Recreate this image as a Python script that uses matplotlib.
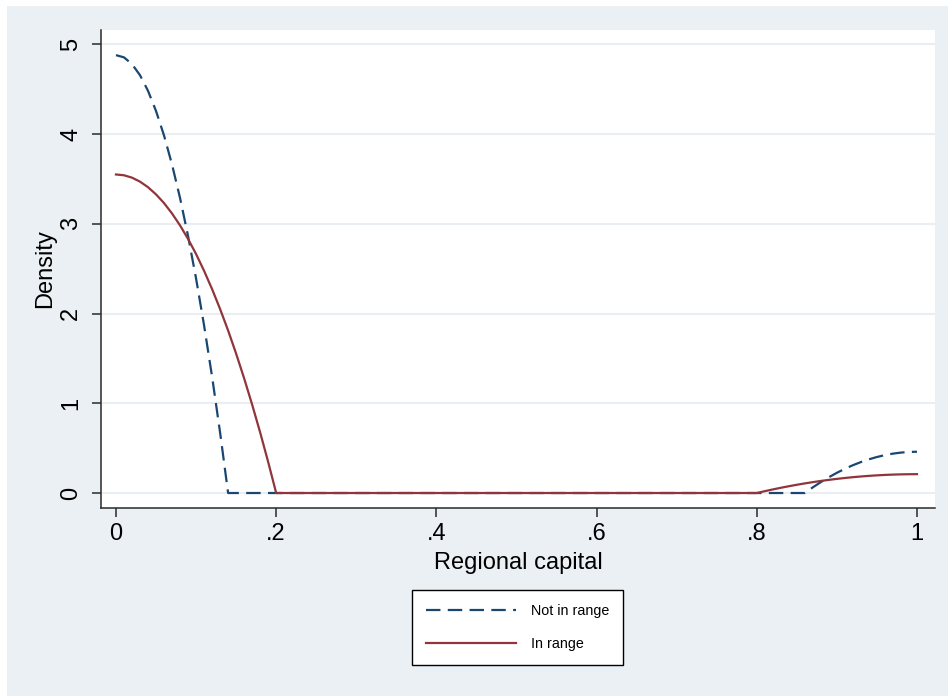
import matplotlib
matplotlib.use("Agg")
import matplotlib.pyplot as plt
from matplotlib.patches import Rectangle

plt.rcParams['font.family'] = ['Liberation Sans', 'DejaVu Sans']

# Values
x_not = [0.0, 0.01, 0.02, 0.03, 0.04, 0.05, 0.06, 0.07, 0.08, 0.09, 0.10, 0.11, 0.12, 0.13, 0.14,
         0.86, 0.87, 0.88, 0.89, 0.90, 0.91, 0.92, 0.93, 0.94, 0.95, 0.96, 0.97, 0.98, 0.99, 1.0]
y_not = [4.88, 4.855, 4.78, 4.656, 4.482, 4.257, 3.984, 3.66, 3.287, 2.863, 2.39, 1.867, 1.295, 0.672, 0.0,
         0.0, 0.0634, 0.122, 0.176, 0.2253, 0.2699, 0.3098, 0.345, 0.3755, 0.4013, 0.4225, 0.4389,
         0.4506, 0.4577, 0.46]

x_in = [0.0, 0.01, 0.02, 0.03, 0.04, 0.05, 0.06, 0.07, 0.08, 0.09, 0.10, 0.11, 0.12, 0.13, 0.14,
        0.15, 0.16, 0.17, 0.18, 0.19, 0.20,
        0.80, 0.81, 0.82, 0.83, 0.84, 0.85, 0.86, 0.87, 0.88, 0.89, 0.90, 0.91, 0.92, 0.93, 0.94,
        0.95, 0.96, 0.97, 0.98, 0.99, 1.0]
y_in = [3.55, 3.541, 3.5145, 3.47, 3.408, 3.328, 3.231, 3.115, 2.982, 2.831, 2.663, 2.476, 2.272,
        2.05, 1.811, 1.553, 1.278, 0.985, 0.675, 0.346, 0.0,
        0.0, 0.0205, 0.0399, 0.0583, 0.0756, 0.0919, 0.1071, 0.1213, 0.1344, 0.1465, 0.1575,
        0.1675, 0.1764, 0.1843, 0.1911, 0.1969, 0.2016, 0.2053, 0.2079, 0.2095, 0.21]

xticks = [0, 0.2, 0.4, 0.6, 0.8, 1.0]
xticklabels = ['0', '.2', '.4', '.6', '.8', '1']
yticks = [0, 1, 2, 3, 4, 5]
yticklabels = ['0', '1', '2', '3', '4', '5']
series_names = ['Not in range', 'In range']
xlabel = 'Regional capital'
ylabel = 'Density'

W, H = 948, 696
bg = '#eaf0f3'
navy = '#1a476f'
maroon = '#90353b'

fig = plt.figure(figsize=(W / 100, H / 100), dpi=100, facecolor='white')
fig.patches.append(Rectangle((7 / W, 0), 1 - 7 / W, 1 - 6 / H, transform=fig.transFigure,
                             facecolor=bg, edgecolor='none', zorder=-10))

L, R, T, B = 101, 935, 30, 508
ax = fig.add_axes([L / W, 1 - B / H, (R - L) / W, (B - T) / H])
ax.set_facecolor('white')

ax.plot(x_not, y_not, color=navy, lw=1.6, dashes=(6.5, 3.3), label=series_names[0], zorder=3)
ax.plot(x_in, y_in, color=maroon, lw=1.6, label=series_names[1], zorder=4)

ax.set_xlim(-0.0187, 1.0225)
ax.set_ylim(-0.167, 5.16)
ax.set_xticks(xticks)
ax.set_xticklabels(xticklabels)
ax.set_yticks(yticks)
ax.set_yticklabels(yticklabels, rotation=90, va='center')
ax.grid(axis='y', color='#e8eef1', lw=1.5, zorder=0)
ax.grid(axis='x', visible=False)
ax.set_axisbelow(True)

for s in ['top', 'right']:
    ax.spines[s].set_visible(False)
for s in ['left', 'bottom']:
    ax.spines[s].set_color('#2a2a2a')
    ax.spines[s].set_linewidth(1.1)

ax.tick_params(axis='both', direction='out', length=6.5, width=1.1, color='#2a2a2a',
               labelsize=17, labelcolor='black')
ax.tick_params(axis='x', pad=4)
ax.tick_params(axis='y', pad=7)

ax.set_xlabel(xlabel, fontsize=17, labelpad=5)
ax.set_ylabel(ylabel, fontsize=17, labelpad=3)

leg = fig.legend(loc='center', bbox_to_anchor=(517.5 / W, 1 - 627.5 / H), fontsize=10.3,
                 frameon=True, fancybox=False, shadow=False, handlelength=6.3,
                 handletextpad=1.05, borderpad=0.95, labelspacing=1.35, borderaxespad=0)
leg.get_frame().set_edgecolor('black')
leg.get_frame().set_linewidth(1.0)
leg.get_frame().set_facecolor('white')
leg.get_frame().set_alpha(1.0)

fig.savefig('out.png', dpi=100, facecolor=fig.get_facecolor())
